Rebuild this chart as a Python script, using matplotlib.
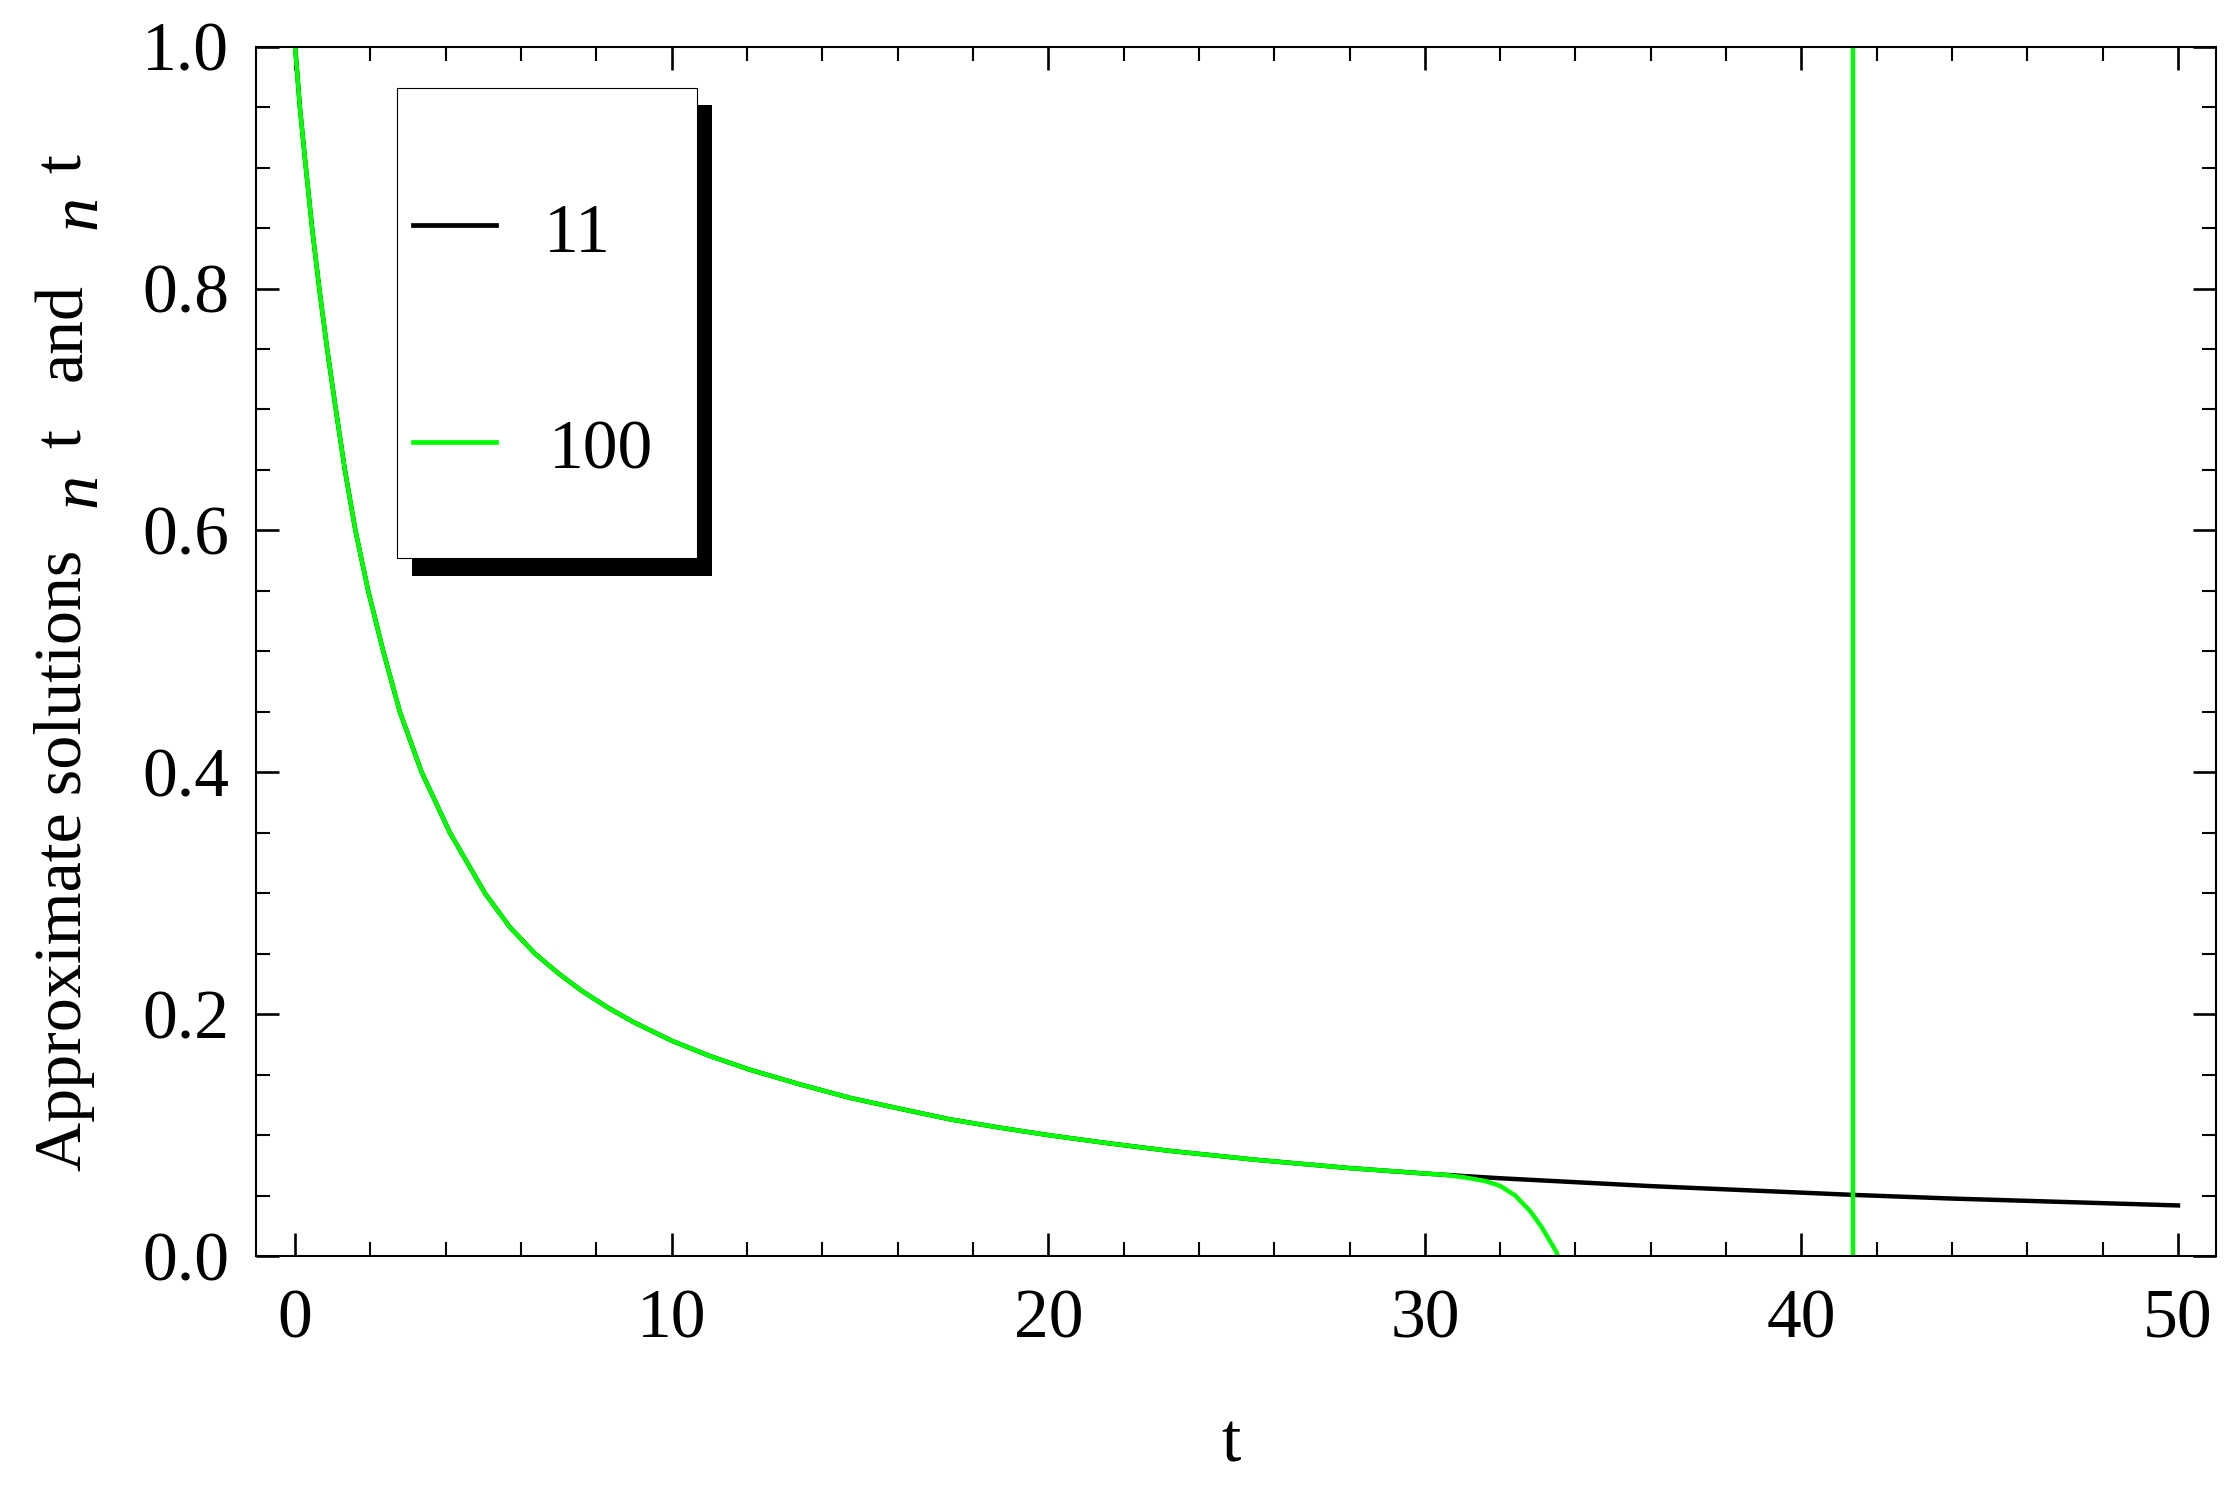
import matplotlib
matplotlib.use("Agg")
import matplotlib.pyplot as plt
from matplotlib.patches import Rectangle
from matplotlib.lines import Line2D
import numpy as np

# Times-like serif, close to the original Mathematica output
plt.rcParams['font.family'] = 'Liberation Serif'
plt.rcParams['font.size'] = 50

# values; both solutions coincide up to t ~ 30
t_common = [0, 0.125, 0.284, 0.45, 0.64, 0.85, 1.08, 1.32, 1.6, 1.94, 2.34, 2.78,
            3.36, 4.11, 5.04, 5.7, 6.37, 7.0, 7.6, 8.3, 8.98, 10.0, 11.0, 12.08,
            13.4, 14.73, 16.0, 17.39, 18.7, 20.04, 21.6, 23.15, 25.5, 28.0, 30.0]
y_common = [1.0, 0.95, 0.90, 0.85, 0.80, 0.75, 0.70, 0.65, 0.60, 0.55, 0.50, 0.45,
            0.40, 0.35, 0.30, 0.272, 0.250, 0.2335, 0.2195, 0.2055, 0.1935, 0.178, 0.1655, 0.154,
            0.142, 0.1308, 0.1222, 0.113, 0.1062, 0.0998, 0.0932, 0.0872, 0.0796, 0.0727, 0.0682]

# n = 11 keeps decaying slowly
t_11_tail = [31.1, 32.0, 36.0, 41.4, 44.0, 50.0]
y_11_tail = [0.0660, 0.0643, 0.0578, 0.0505, 0.0475, 0.0418]

# n = 100 breaks down after t ~ 30 and blows up near t ~ 41.4
t_100_tail = [30.5, 31.1, 31.6, 32.0, 32.4, 32.8, 33.1, 33.5, 33.7, np.nan, 41.37, 41.37]
y_100_tail = [0.0672, 0.0648, 0.062, 0.058, 0.050, 0.037, 0.024, 0.003, -0.02, np.nan, -5.0, 5.0]

legend_labels = ['11', '100']
x_major = [0, 10, 20, 30, 40, 50]
y_major = [0.0, 0.2, 0.4, 0.6, 0.8, 1.0]

W, H = 2239, 1487
fig = plt.figure(figsize=(W / 100, H / 100), dpi=100)
ax = fig.add_axes([256 / W, 1 - 1256 / H, (2216 - 256) / W, (1256 - 46.7) / H])

def fx(px):
    return px / W

def fy(py):
    return 1 - py / H

l11, = ax.plot(t_common + t_11_tail, y_common + y_11_tail, color='black', lw=3.2)
l100, = ax.plot(t_common + t_100_tail, y_common + y_100_tail, color='#00ff00', lw=3.2)

ax.set_xlim(-1.04, 51.01)
ax.set_ylim(0, 1)
ax.set_xticks(x_major)
ax.set_xticks(np.arange(0, 51, 2), minor=True)
ax.set_yticks(y_major)
ax.set_yticklabels(['%.1f' % v for v in y_major])
ax.set_yticks(np.arange(0, 1.001, 0.05), minor=True)

for s in ax.spines.values():
    s.set_linewidth(1.5)
ax.tick_params(which='both', direction='in', top=True, right=True)
ax.tick_params(which='major', length=16.5, width=1.9)
ax.tick_params(which='minor', length=10, width=1.5)
ax.tick_params(axis='x', which='major', pad=24)
ax.tick_params(axis='y', which='major', pad=19.5)

# axis labels; the y label is built from pieces (glyphs missing in the original)
fig.text(fx(1231), fy(1461), 't', ha='center', va='baseline')
ylab = [('Approximate solutions', 1171, 81, 'normal'),
        ('n', 507, 96, 'italic'),
        ('t', 448, 81, 'normal'),
        ('and', 381, 81, 'normal'),
        ('n', 229, 96, 'italic'),
        ('t', 173, 81, 'normal')]
for txt, py, px, style in ylab:
    fig.text(fx(px), fy(py), txt, rotation=90, rotation_mode='anchor',
             ha='left', va='baseline', fontstyle=style, fontsize=49)

# legend box with hard black shadow
fig.add_artist(Rectangle((fx(412), fy(576)), (712 - 412) / W, (576 - 105) / H,
                         transform=fig.transFigure, facecolor='black', edgecolor='none'))
fig.add_artist(Rectangle((fx(397.3), fy(558.3)), (696.7 - 397.3) / W, (558.3 - 88.3) / H,
                         transform=fig.transFigure, facecolor='white', edgecolor='black', lw=0.8))
for line, label, py, lx in [(l11, legend_labels[0], 225, 544), (l100, legend_labels[1], 442, 549)]:
    fig.add_artist(Line2D([fx(412.7), fx(496)], [fy(py), fy(py)], transform=fig.transFigure,
                          color=line.get_color(), lw=3.4))
    fig.text(fx(lx), fy(py + 27), label, ha='left', va='baseline')

fig.savefig('out.png', dpi=100)
